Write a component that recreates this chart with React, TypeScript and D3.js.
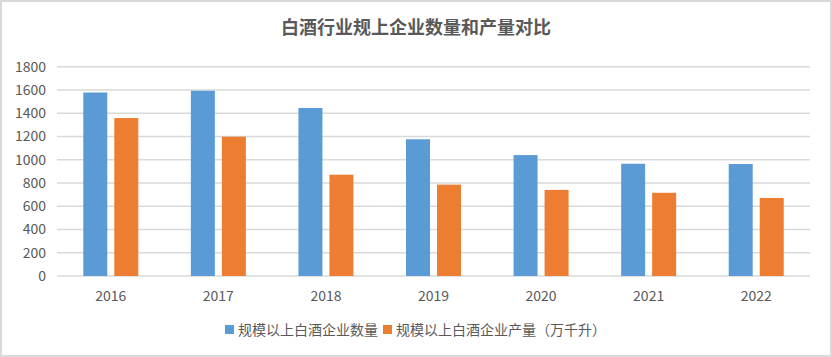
import React from "react";
import * as d3 from "d3";

const years = ["2016", "2017", "2018", "2019", "2020", "2021", "2022"];
const enterpriseCount = [1578, 1593, 1445, 1176, 1040, 965, 963];
const outputVolume = [1358.4, 1198.1, 871.2, 785.9, 740.7, 715.6, 671.2];
const seriesNames = ["规模以上白酒企业数量", "规模以上白酒企业产量（万千升）"];
const yTicks = [0, 200, 400, 600, 800, 1000, 1200, 1400, 1600, 1800];
const title = "白酒行业规上企业数量和产量对比";

const W = 832;
const H = 357;
const colors = ["#5b9bd5", "#ed7d31"];
const textColor = "#595959";
const font = "'Noto Sans CJK SC', 'Open Sans', sans-serif";

export default function App() {
  const left = 57;
  const right = 810;
  const top = 66.7;
  const bottom = 276;

  const x0 = d3.scaleBand<string>().domain(years).range([left, right]).paddingInner(0).paddingOuter(0);
  const groupW = 55;
  const x1 = d3.scaleBand<number>().domain([0, 1]).range([0, groupW]).paddingInner(0.226);
  const y = d3.scaleLinear().domain([0, 1800]).range([bottom, top]);

  const series = [enterpriseCount, outputVolume];

  return (
    <svg
      width={W}
      height={H}
      style={{ position: "absolute", left: 0, top: 0, background: "#fff" }}
      fontFamily={font}
    >
      <rect x={1} y={1} width={W - 2} height={H - 2} fill="#fff" stroke="#d9d9d9" strokeWidth={2} />
      <text x={416} y={34} textAnchor="middle" fontSize={18} fontWeight="bold" fill={textColor}>
        {title}
      </text>
      {yTicks.map((t) => (
        <g key={t}>
          <line x1={left} x2={right} y1={y(t)} y2={y(t)} stroke="#d9d9d9" strokeWidth={1.5} />
          <text x={46} y={y(t)} dy="0.35em" textAnchor="end" fontSize={14} fill={textColor}>
            {t}
          </text>
        </g>
      ))}
      {years.map((yr, i) => {
        const gx = (x0(yr) as number) + x0.bandwidth() / 2 - groupW / 2;
        return (
          <g key={yr}>
            {series.map((s, j) => (
              <rect
                key={j}
                x={gx + (x1(j) as number)}
                y={y(s[i])}
                width={x1.bandwidth()}
                height={bottom - y(s[i])}
                fill={colors[j]}
              />
            ))}
            <text
              x={(x0(yr) as number) + x0.bandwidth() / 2}
              y={301}
              textAnchor="middle"
              fontSize={14}
              fill={textColor}
            >
              {yr}
            </text>
          </g>
        );
      })}
      <g>
        <rect x={225} y={325} width={9} height={9} fill={colors[0]} />
        <text x={238} y={330} dy="0.35em" fontSize={14} fill={textColor}>
          {seriesNames[0]}
        </text>
        <rect x={383} y={325} width={9} height={9} fill={colors[1]} />
        <text x={396} y={330} dy="0.35em" fontSize={14} fill={textColor}>
          {seriesNames[1]}
        </text>
      </g>
    </svg>
  );
}
